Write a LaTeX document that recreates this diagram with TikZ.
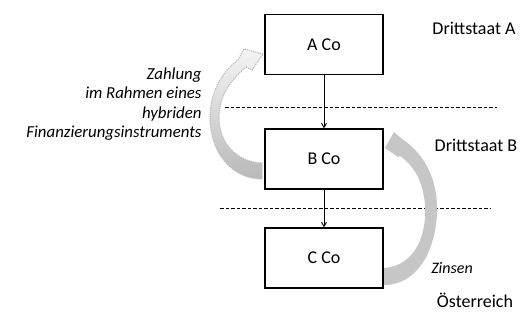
\documentclass[tikz,border=0pt]{standalone}
\usepackage{fontspec}
\setmainfont{Carlito}
\usetikzlibrary{positioning}
\usetikzlibrary{arrows}
\usetikzlibrary{calc}

\tikzset{
  cobox/.style={draw, line width=1.3pt, minimum width=118pt, minimum height=60pt, font=\fontsize{18}{21}\selectfont},
  land/.style={font=\fontsize{18}{21}\selectfont},
  flow/.style={->, >=angle 60, line width=0.9pt},
  border/.style={dashed, dash pattern=on 3.5pt off 2pt, line width=0.7pt}
}

\begin{document}
\begin{tikzpicture}[x=1pt,y=-1pt]
                \useasboundingbox (0,0) rectangle (523,322);

                % Define the companies
                \node[cobox] (aco) at (324,44.5) {A Co};
                \node[cobox] (bco) at (324,159) {B Co};
                \node[cobox] (cco) at (324,258) {C Co};

                % Define the ends of the borders
                \coordinate (g1l) at (225,107);
                \coordinate (g1r) at (497,107);
                \coordinate (g2l) at (220,208);
                \coordinate (g2r) at (490,208);

                % Draw the borders
                \draw[border] (g1l) -- (g1r);
                \draw[border] (g2l) -- (g2r);

                % Draw the ownership lines
                \draw[flow] (aco) -- (bco);
                \draw[flow] (bco) -- (cco);

                % Countries
                \node[land] (sa) at (474,28) {Drittstaat A};
                \node[land] (sb) at (476,145) {Drittstaat B};
                \node[land] (oe) at (475,300) {Österreich};

                % Payment arrows
                \fill[gray!45] (384,285) .. controls (420,285) and (438,245) .. (437,205)
                    .. controls (436,175) and (422,152) .. (402,139) -- (394,132) -- (385,148)
                    -- (398,157) -- (400,156) .. controls (413,165) and (423,180) .. (425,205)
                    .. controls (427,235) and (415,266) .. (384,268) -- cycle;
                \shade[top color=gray!8, bottom color=gray!55, draw=gray!50, densely dotted, line width=1.2pt]
                    (262,179) .. controls (230,179) and (210,150) .. (210,118)
                    .. controls (210,92) and (222,72) .. (238,60) -- (244,49) -- (263,54) -- (252,70)
                    -- (246,67) .. controls (231,80) and (219,95) .. (219,118)
                    .. controls (219,142) and (236,162) .. (262,163) -- cycle;

                \node[land, font=\fontsize{16}{18}\selectfont\itshape] (zi) at (452,268) {Zinsen};
                \node[land, font=\fontsize{16.8}{19.5}\selectfont\itshape, align=right, anchor=east] (za) at (205,104)
                    {Zahlung\\im Rahmen eines\\hybriden\\Finanzierungsinstruments};

            \end{tikzpicture}
\end{document}
